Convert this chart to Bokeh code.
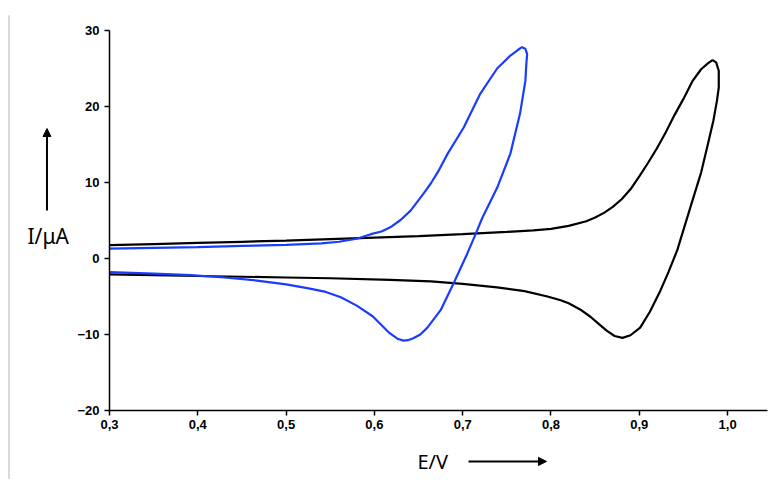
from bokeh.plotting import figure
from bokeh.models import (Range1d, FixedTicker, CustomJSTickFormatter, Label, Arrow,
                          NormalHead, LinearAxis)
from bokeh.embed import file_html
from bokeh.resources import INLINE

# ---- data ----
# black CV: forward scan then reverse scan (E in V, I in µA)
black_E = [0.30, 0.35, 0.40, 0.45, 0.50, 0.55, 0.60, 0.65, 0.70, 0.75, 0.78, 0.80, 0.82, 0.84,
           0.85, 0.86, 0.87, 0.88, 0.89, 0.90, 0.91, 0.92, 0.93, 0.94, 0.95, 0.96, 0.97, 0.978,
           0.983, 0.987, 0.990, 0.990, 0.988, 0.984, 0.978, 0.970, 0.958, 0.943, 0.933, 0.924,
           0.912, 0.901, 0.890, 0.881, 0.872, 0.863, 0.856, 0.845, 0.833, 0.820, 0.811, 0.796,
           0.77, 0.739, 0.70, 0.664, 0.618, 0.55, 0.50, 0.45, 0.40, 0.35, 0.30]
black_I = [1.75, 1.9, 2.05, 2.2, 2.35, 2.55, 2.75, 2.95, 3.2, 3.5, 3.7, 3.9, 4.3, 4.9,
           5.4, 6.0, 6.8, 7.8, 9.1, 10.8, 12.6, 14.5, 16.6, 18.9, 21.0, 23.3, 24.9, 25.7,
           26.1, 25.8, 24.7, 22.5, 20.8, 18.2, 15.2, 11.3, 6.8, 1.1, -1.8, -4.2,
           -7.0, -9.1, -10.1, -10.45, -10.2, -9.5, -8.8, -7.7, -6.7, -5.9, -5.5, -5.0,
           -4.3, -3.8, -3.35, -3.0, -2.8, -2.6, -2.5, -2.4, -2.3, -2.2, -2.1]

# blue CV: forward scan then reverse scan
blue_E = [0.30, 0.35, 0.40, 0.45, 0.50, 0.54, 0.56, 0.58, 0.596, 0.608, 0.618, 0.630, 0.641,
          0.656, 0.664, 0.673, 0.683, 0.701, 0.720, 0.739, 0.754, 0.762, 0.767, 0.771, 0.773,
          0.772, 0.771, 0.765, 0.754, 0.739, 0.722, 0.715, 0.705, 0.690, 0.675, 0.660, 0.652,
          0.644, 0.638, 0.633, 0.626, 0.617, 0.598, 0.58, 0.562, 0.545, 0.524, 0.50, 0.467,
          0.43, 0.392, 0.35, 0.30]
blue_I = [1.3, 1.4, 1.5, 1.65, 1.8, 2.0, 2.2, 2.6, 3.2, 3.55, 4.1, 5.1, 6.3,
          8.6, 9.9, 11.6, 13.8, 17.2, 21.7, 25.0, 26.7, 27.4, 27.8, 27.6, 26.9,
          25.5, 23.4, 19.1, 13.8, 9.3, 5.3, 3.3, 0.6, -3.2, -6.8, -9.1, -10.0,
          -10.5, -10.75, -10.8, -10.55, -9.8, -7.6, -6.2, -5.1, -4.4, -3.9, -3.4, -2.9,
          -2.5, -2.2, -2.0, -1.8]

x_ticks = [0.3, 0.4, 0.5, 0.6, 0.7, 0.8, 0.9, 1.0]
y_ticks = [-20, -10, 0, 10, 20, 30]
x_bounds = (0.3, 1.045)
y_bounds = (-20, 30)
x_label = "E/V"
y_label = "I/μA"

# ---- figure: the frame fills the canvas; axes are pinned inside it ----
W, H = 770, 479
p = figure(frame_width=W, frame_height=H, output_backend="svg", toolbar_location=None,
           x_range=Range1d(0.17656, 0.17656 + W / 883.0),
           y_range=Range1d(33.947 - H / 7.6, 33.947),
           x_axis_location=None, y_axis_location=None,
           min_border=0, min_border_left=0, min_border_right=0,
           min_border_top=0, min_border_bottom=0)
p.title.visible = False
p.grid.visible = False
p.outline_line_color = None
p.background_fill_color = "white"
p.border_fill_color = "white"

xaxis = LinearAxis(fixed_location=y_bounds[0], bounds=x_bounds,
                   ticker=FixedTicker(ticks=x_ticks),
                   formatter=CustomJSTickFormatter(code="return tick.toFixed(1).replace('.', ',');"))
yaxis = LinearAxis(fixed_location=x_bounds[0], bounds=y_bounds,
                   ticker=FixedTicker(ticks=y_ticks))
for ax in (xaxis, yaxis):
    ax.axis_line_color = "black"
    ax.axis_line_width = 1.5
    ax.major_tick_line_color = "black"
    ax.major_tick_line_width = 1.5
    ax.major_tick_out = 5
    ax.major_tick_in = 0
    ax.minor_tick_line_color = None
    ax.major_label_text_font = "Liberation Sans"
    ax.major_label_text_font_style = "bold"
    ax.major_label_text_font_size = "13px"
    ax.major_label_text_color = "black"
    ax.major_label_standoff = 5
p.add_layout(xaxis, "below")
p.add_layout(yaxis, "left")

p.line(black_E, black_I, line_color="black", line_width=2.2)
p.line(blue_E, blue_I, line_color="#1a3cff", line_width=2.2)

# axis titles with arrows
p.add_layout(Label(x=0.2071, y=2.9, text=y_label, text_font="Noto Sans",
                   text_font_size="21px", text_baseline="middle", text_color="black"))
p.add_layout(Arrow(x_start=0.2292, y_start=6.3, x_end=0.2292, y_end=17.1,
                   line_color="black", line_width=2,
                   end=NormalHead(size=8, fill_color="black", line_color="black")))
p.add_layout(Label(x=0.6488, y=-26.7, text=x_label, text_font="Noto Sans",
                   text_font_size="20px", text_baseline="middle", text_color="black"))
p.add_layout(Arrow(x_start=0.7066, y_start=-26.7, x_end=0.7949, y_end=-26.7,
                   line_color="black", line_width=2,
                   end=NormalHead(size=8, fill_color="black", line_color="black")))
# thin grey border line at the far left of the picture
p.add_layout(Arrow(x_start=0.1862, y_start=32.0, x_end=0.1862, y_end=-29.5,
                   line_color="#b4b4b4", line_width=1, end=None))

open("out.html", "w").write(file_html(p, INLINE))
